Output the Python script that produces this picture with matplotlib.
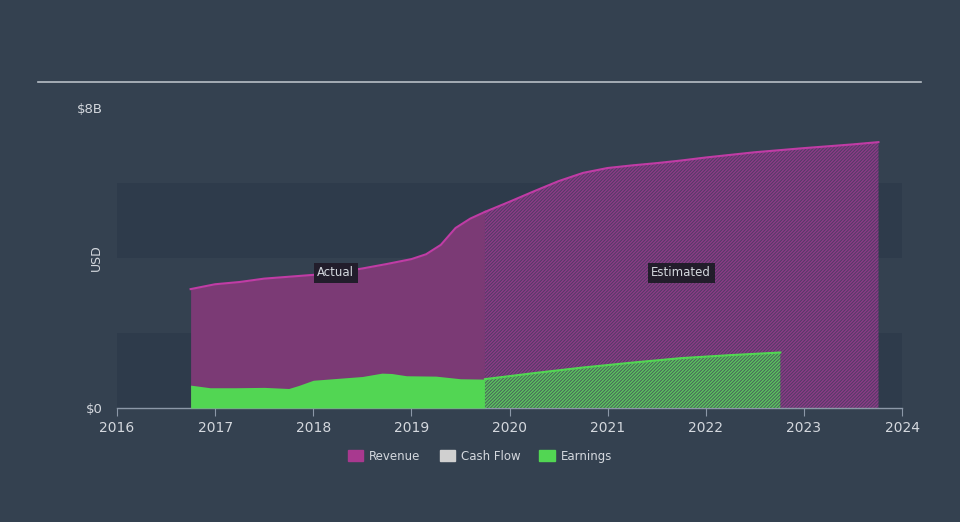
import matplotlib
import matplotlib.pyplot as plt
from matplotlib.patches import Patch

matplotlib.use('Agg')

# Revenue (USD billions), actual and estimated
rev_act_years = [2016.75, 2017.0, 2017.25, 2017.5, 2017.75, 2018.0, 2018.25, 2018.5,
                 2018.75, 2019.0, 2019.15, 2019.3, 2019.45, 2019.6, 2019.75]
rev_act_vals = [3.17, 3.3, 3.36, 3.45, 3.5, 3.55, 3.62, 3.72, 3.84, 3.97, 4.1, 4.35, 4.8, 5.05, 5.23]
rev_est_years = [2019.75, 2020.0, 2020.25, 2020.5, 2020.75, 2021.0, 2021.25, 2021.5,
                 2021.75, 2022.0, 2022.5, 2023.0, 2023.5, 2023.76]
rev_est_vals = [5.23, 5.5, 5.78, 6.05, 6.27, 6.4, 6.47, 6.53, 6.6, 6.68, 6.82, 6.93, 7.03, 7.09]

# Earnings (USD billions)
earn_act_years = [2016.75, 2016.95, 2017.2, 2017.5, 2017.75, 2017.85, 2018.0, 2018.2,
                  2018.5, 2018.7, 2018.8, 2018.95, 2019.25, 2019.5, 2019.75]
earn_act_vals = [0.61, 0.54, 0.54, 0.55, 0.52, 0.6, 0.74, 0.78, 0.84, 0.93, 0.92, 0.86, 0.85, 0.78, 0.77]
earn_est_years = [2019.75, 2020.25, 2020.75, 2021.25, 2021.75, 2022.25, 2022.76]
earn_est_vals = [0.77, 0.93, 1.08, 1.21, 1.33, 1.41, 1.48]

year_ticks = list(range(2016, 2025))

BG = '#344150'
BAND = '#2e3b4b'
REV_LINE = '#c03ca5'
REV_FILL = '#7b3a75'
REV_HATCH_BASE = '#503c64'
REV_HATCH = '#8c3a86'
EARN = '#52d653'
EARN_HATCH_BASE = '#46625a'
EARN_HATCH = '#5cc35e'
TEXT = '#d4d8de'
AXIS = '#8c98a8'

plt.rcParams['font.family'] = ['DejaVu Sans']
plt.rcParams['hatch.linewidth'] = 1.0

fig = plt.figure(figsize=(9.6, 5.22), dpi=100, facecolor=BG)
ax = fig.add_axes([117 / 960, 1 - 408 / 522, 785 / 960, 300 / 522])
ax.set_facecolor(BG)

# alternating horizontal bands
ax.axhspan(0, 2, color=BAND, zorder=0, lw=0)
ax.axhspan(4, 6, color=BAND, zorder=0, lw=0)

# revenue actual
ax.fill_between(rev_act_years, 0, rev_act_vals, color=REV_FILL, lw=0, zorder=1)
ax.plot(rev_act_years, rev_act_vals, color=REV_LINE, lw=1.5, zorder=2)
# revenue estimated
ax.fill_between(rev_est_years, 0, rev_est_vals, facecolor=REV_HATCH_BASE,
                edgecolor=REV_HATCH, hatch='//////////', lw=0, zorder=1)
ax.plot(rev_est_years, rev_est_vals, color=REV_LINE, lw=1.5, zorder=2)

# earnings actual
ax.fill_between(earn_act_years, 0, earn_act_vals, color=EARN, lw=0, zorder=3)
# earnings estimated
ax.fill_between(earn_est_years, 0, earn_est_vals, facecolor=EARN_HATCH_BASE,
                edgecolor=EARN_HATCH, hatch='//////////', lw=0, zorder=3)
ax.plot(earn_est_years, earn_est_vals, color=EARN, lw=1.5, zorder=4)

ax.set_xlim(2016, 2024)
ax.set_ylim(0, 8)

for s in ['top', 'right', 'left']:
    ax.spines[s].set_visible(False)
ax.spines['bottom'].set_color(AXIS)
ax.spines['bottom'].set_linewidth(1)

ax.set_xticks(year_ticks)
ax.set_xticklabels([str(y) for y in year_ticks])
ax.tick_params(axis='x', colors=AXIS, labelcolor=TEXT, labelsize=10, length=6, direction='out')
ax.set_yticks([0, 8])
ax.set_yticklabels(['$0', '$8B'])
ax.tick_params(axis='y', length=0, labelcolor=TEXT, labelsize=9.5, pad=10.5)
ax.set_ylabel('USD', color=TEXT, fontsize=9)
ax.yaxis.set_label_coords(-14 / 785, 0.5)

box = dict(boxstyle='square,pad=0.3', facecolor='#221d2b', edgecolor='none')
ax.text(2018.23, 3.6, 'Actual', color=TEXT, fontsize=8.5, ha='center', va='center', bbox=box, zorder=5)
ax.text(2021.75, 3.6, 'Estimated', color=TEXT, fontsize=8.5, ha='center', va='center', bbox=box, zorder=5)

# top rule
fig.add_artist(plt.Line2D([38 / 960, 921 / 960], [1 - 82 / 522] * 2, color='#b8bec6', lw=1.2))

handles = [Patch(color='#a8398f', label='Revenue'),
           Patch(color='#d0d0d0', label='Cash Flow'),
           Patch(color=EARN, label='Earnings')]
leg = fig.legend(handles=handles, loc='center', bbox_to_anchor=(0.5, 1 - 456 / 522), ncol=3,
                 frameon=False, fontsize=8.5, handlelength=1.3, handleheight=1.0,
                 columnspacing=1.6, handletextpad=0.5)
for t in leg.get_texts():
    t.set_color(TEXT)

fig.savefig('out.png', dpi=100, facecolor=BG)
